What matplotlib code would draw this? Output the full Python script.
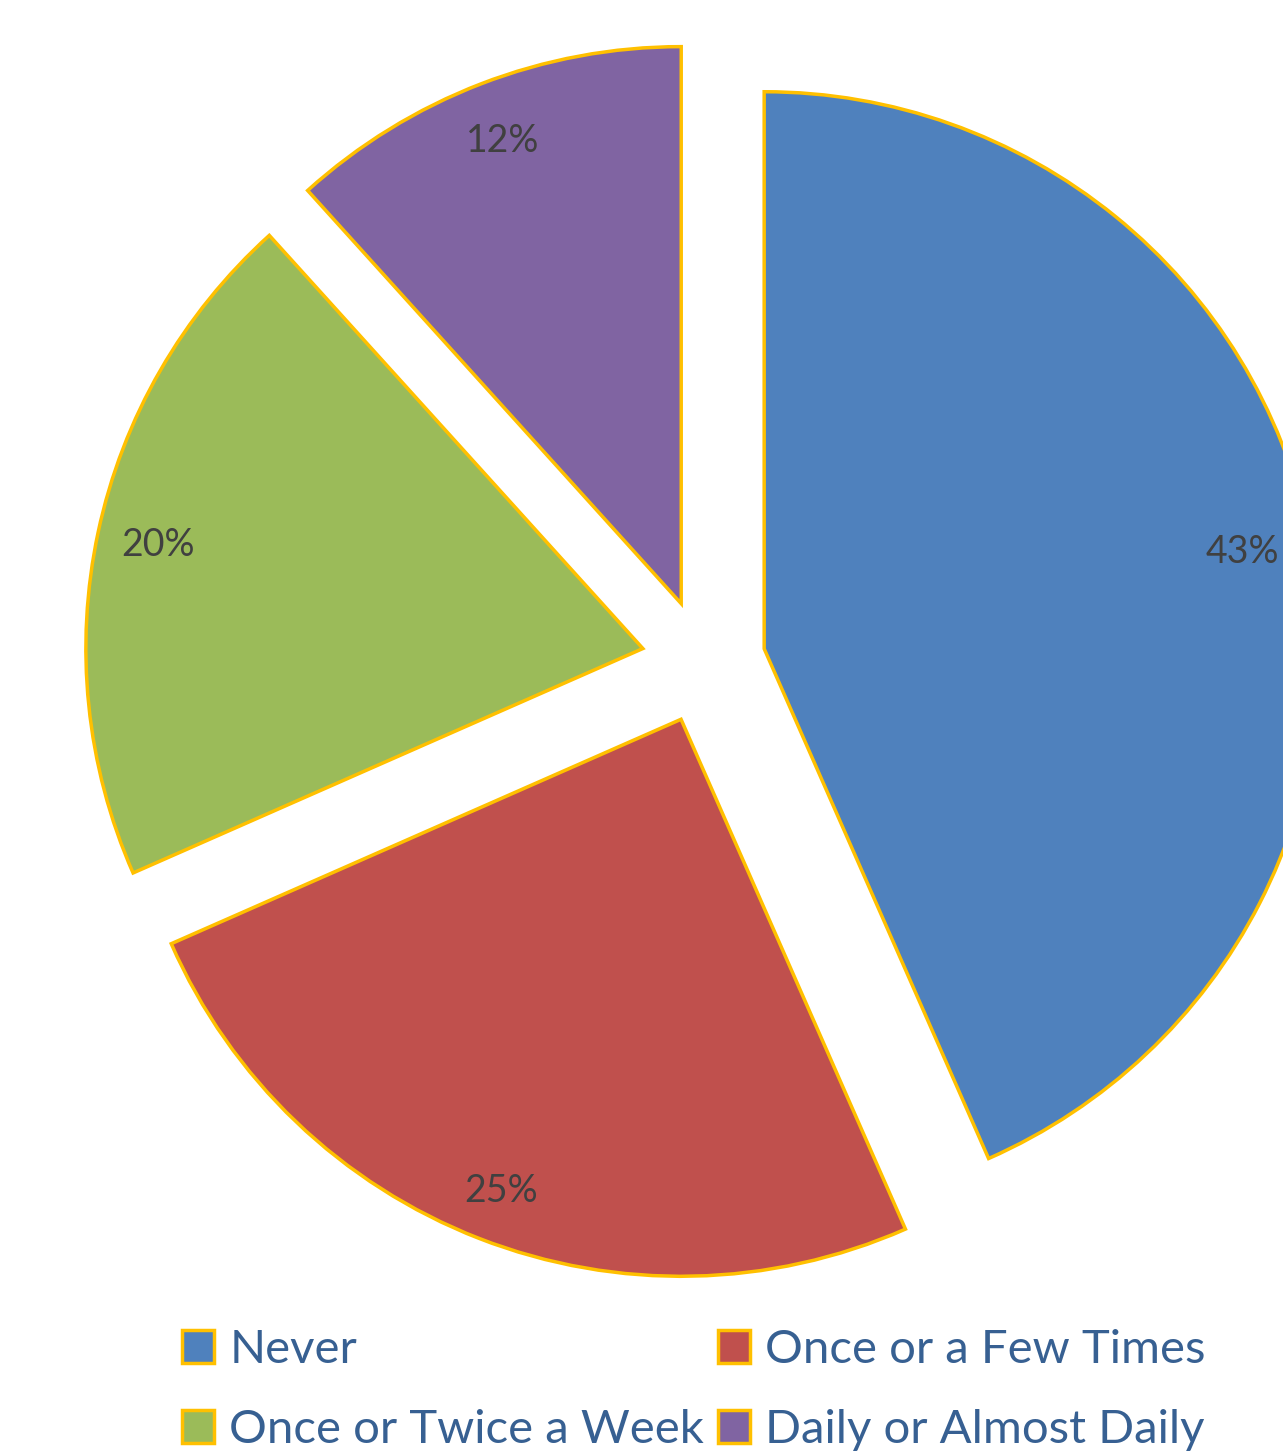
import matplotlib
matplotlib.use('Agg')
import matplotlib.pyplot as plt

# Data
categories = ['Never', 'Once or a Few Times', 'Once or Twice a Week', 'Daily or Almost Daily']
shares = [43.4, 25.0, 19.9, 11.7]
colors = ['#4F81BD', '#C0504D', '#9BBB59', '#8064A2']

plt.rcParams['font.family'] = ['Lato', 'DejaVu Sans']

W, H = 1283, 1453
fig = plt.figure(figsize=(W / 100, H / 100), dpi=100)
ax = fig.add_axes([0, 0, 1, 1])

# pie is cropped on the right like the original screenshot
wedges, texts, autotexts = ax.pie(
    shares, colors=colors, startangle=90, counterclock=False,
    center=(703.5, H - 661.5), radius=557, explode=[62] * 4,
    autopct='%1.0f%%', pctdistance=0.89,
    wedgeprops=dict(edgecolor='#FFC000', linewidth=2.5),
    textprops=dict(color='#404040', fontsize=27), frame=True)
ax.set_xlim(0, W)
ax.set_ylim(0, H)
ax.set_aspect('equal')
ax.axis('off')

# small nudges so labels sit where Excel put them
x0, y0 = autotexts[0].get_position()
autotexts[0].set_position((x0 - 7, y0 - 5))
x1, y1 = autotexts[1].get_position()
autotexts[1].set_position((x1, y1 - 10))

# legend filled row by row: reorder for matplotlib's column-major layout
order = [0, 2, 1, 3]
leg = fig.legend([wedges[i] for i in order], [categories[i] for i in order],
                 ncol=2, loc='center', bbox_to_anchor=(694 / W, (H - 1390) / H),
                 frameon=False, fontsize=34, handlelength=0.68, handleheight=0.68,
                 handletextpad=0.32, columnspacing=0.3, labelspacing=0.8,
                 borderpad=0, borderaxespad=0)
for t in leg.get_texts():
    t.set_color('#376092')

fig.savefig('out.png', dpi=100)
